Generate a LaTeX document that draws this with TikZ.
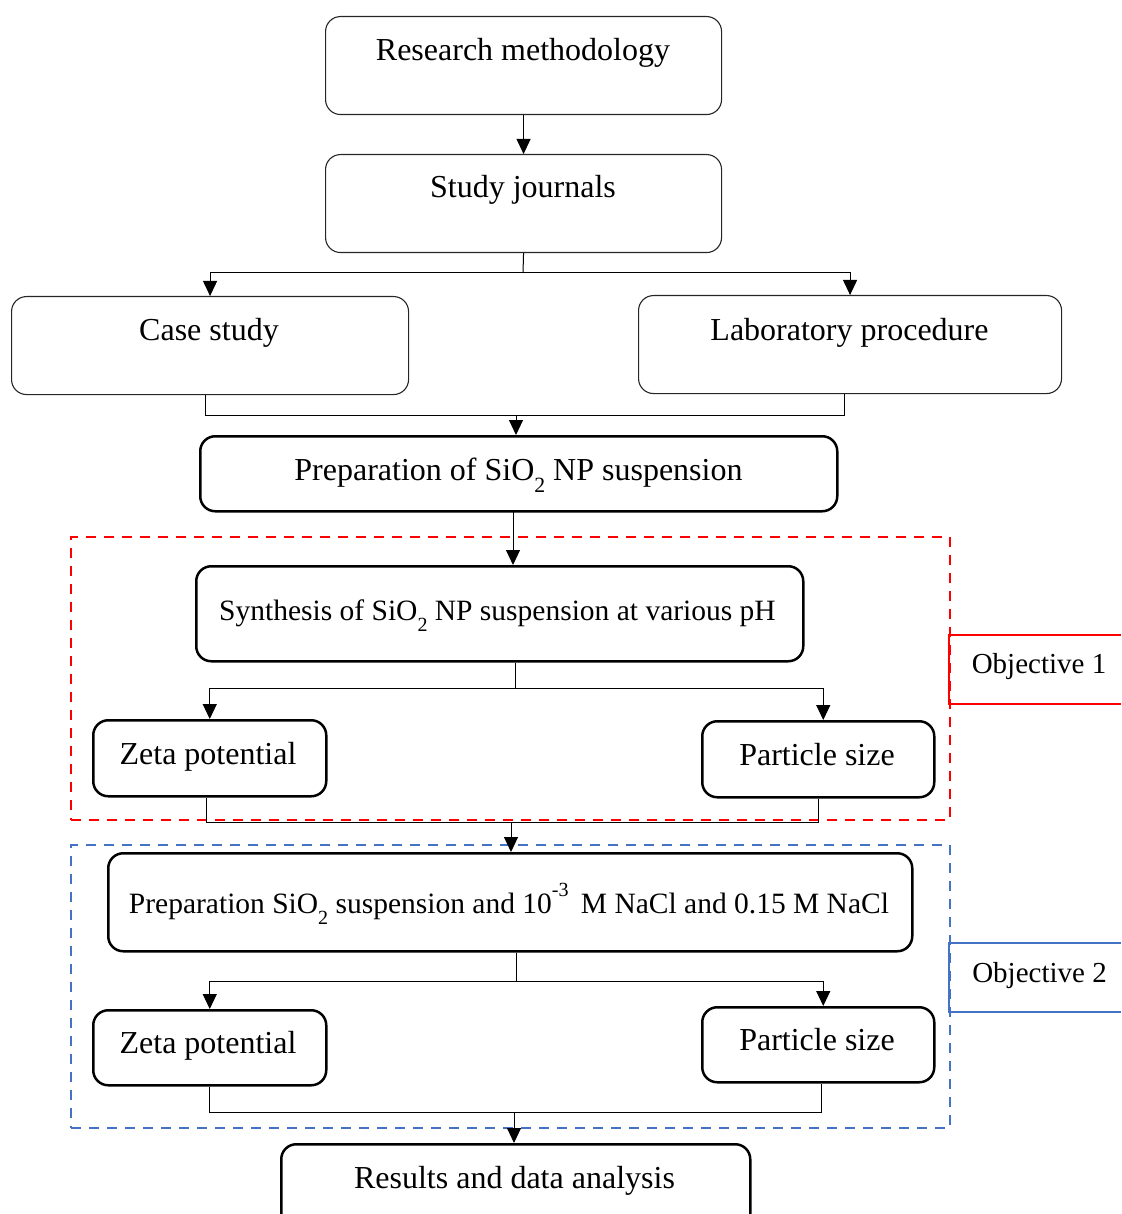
\documentclass[tikz,border=0pt]{standalone}
\usepackage{fontspec}
\usepackage{graphicx}
\setmainfont{Liberation Serif}
\usetikzlibrary{arrows.meta,calc}
\newcommand\lowsub[1]{\raisebox{-0.4em}{\scalebox{0.68}{#1}}}
\newcommand\highsup[1]{\raisebox{0.55em}{\scalebox{0.68}{#1}}}
\definecolor{objblue}{HTML}{4472C4}
\begin{document}
\begin{tikzpicture}[x=1pt,y=-1pt,
  tbox/.style={draw=black!85,line width=1.1pt,rounded corners=15pt,inner sep=0pt,anchor=north west},
  kbox/.style={draw=black,line width=2.5pt,rounded corners=15pt,inner sep=0pt,anchor=north west},
  dbox/.style={line width=2.4pt,dash pattern=on 10pt off 8pt,inner sep=0pt,anchor=north west},
  txt/.style={anchor=base,inner sep=0pt,font=\fontsize{32}{38}\selectfont},
  stxt/.style={anchor=base,inner sep=0pt,font=\fontsize{29.5}{35}\selectfont},
  otxt/.style={anchor=base,inner sep=0pt,font=\fontsize{29}{35}\selectfont},
  conn/.style={draw=black,line width=1pt},
  arr/.style={conn,-{Triangle[length=15pt,width=14pt]}}]
\useasboundingbox (0,0) rectangle (1121,1214);

% dashed objective frames
\node[dbox,draw=red,minimum width=879pt,minimum height=283pt] (ob1box) at (70,536) {};
\node[dbox,draw=objblue,minimum width=879pt,minimum height=283pt] (ob2box) at (70,844) {};

% boxes
\node[tbox,minimum width=396pt,minimum height=98pt] (rm) at (325,16) {};
\node[tbox,minimum width=396pt,minimum height=98pt] (sj) at (325,154) {};
\node[tbox,minimum width=397pt,minimum height=98pt] (cs) at (11,296) {};
\node[tbox,minimum width=423pt,minimum height=98pt] (lab) at (638,295) {};
\node[kbox,minimum width=637pt,minimum height=75pt] (prep) at (199,435) {};
\node[kbox,minimum width=607pt,minimum height=95pt] (syn) at (195,565) {};
\node[kbox,minimum width=233pt,minimum height=76pt] (z1) at (92,719) {};
\node[kbox,minimum width=232pt,minimum height=76pt] (p1) at (701,720) {};
\node[kbox,minimum width=804pt,minimum height=98pt] (prep2) at (107,852) {};
\node[kbox,minimum width=233pt,minimum height=75pt] (z2) at (92,1009) {};
\node[kbox,minimum width=232pt,minimum height=75pt] (p2) at (701,1006) {};
\node[kbox,minimum width=469pt,minimum height=98pt] (res) at (280,1143) {};

% texts
\node[txt] (trm) at (523,61) {Research methodology};
\node[txt] (tsj) at (523,198) {Study journals};
\node[txt] (tcs) at (209,340) {Case study};
\node[txt] (tlab) at (849.5,340) {Laboratory procedure};
\node[txt] (tprep) at (518.5,480) {Preparation of SiO\lowsub{2} NP suspension};
\node[stxt] (tsyn) at (497.5,620) {Synthesis of SiO\lowsub{2} NP suspension at various pH};
\node[txt] (tz1) at (208,764) {Zeta potential};
\node[txt] (tp1) at (817,765) {Particle size};
\node[stxt] (tprep2) at (509,913) {Preparation SiO\lowsub{2} suspension and 10\highsup{-3}\, M NaCl and 0.15 M NaCl};
\node[txt] (tz2) at (208,1053) {Zeta potential};
\node[txt] (tp2) at (817,1050) {Particle size};
\node[txt] (tres) at (514.5,1188) {Results and data analysis};

% objective labels
\draw[red,line width=1.4pt] (1121,635) -- (949,635) -- (949,704) -- (1121,704);
\node[otxt] (obj1) at (1039,673) {Objective 1};
\draw[objblue,line width=1.4pt] (1121,943) -- (949,943) -- (949,1012) -- (1121,1012);
\node[otxt] (obj2) at (1039.5,982) {Objective 2};

% connectors
\draw[arr] (rm.south) -- (sj.north);
\coordinate (b1) at (523,273);
\draw[conn] (sj.south) -- (b1);
\draw[arr] (b1) -| (cs.north);
\draw[arr] (b1) -| (lab.north);

\coordinate (j1) at (516,415);
\draw[conn] ($(cs.south)+(-5,0)$) |- (j1);
\draw[conn] ($(lab.south)+(-6,0)$) |- (j1);
\draw[arr] (j1) -- (j1 |- prep.north);

\coordinate (c2) at (513,510);
\draw[arr] (c2) -- (c2 |- syn.north);

\coordinate (b2) at (515,688);
\draw[conn] (b2 |- syn.south) -- (b2);
\draw[arr] (b2) -| (z1.north);
\draw[arr] (b2) -| ($(p1.north)+(5,0)$);

\coordinate (j2) at (511,822);
\draw[conn] ($(z1.south)+(-3,0)$) |- (j2);
\draw[conn] (p1.south) |- (j2);
\draw[arr] (j2) -- (j2 |- prep2.north);

\coordinate (b3) at (516,981);
\draw[conn] (b3 |- prep2.south) -- (b3);
\draw[arr] (b3) -| (z2.north);
\draw[arr] (b3) -| ($(p2.north)+(5,0)$);

\coordinate (j3) at (514,1112);
\draw[conn] (z2.south) |- (j3);
\draw[conn] ($(p2.south)+(3,0)$) |- (j3);
\draw[arr] (j3) -- (j3 |- res.north);
\end{tikzpicture}
\end{document}
